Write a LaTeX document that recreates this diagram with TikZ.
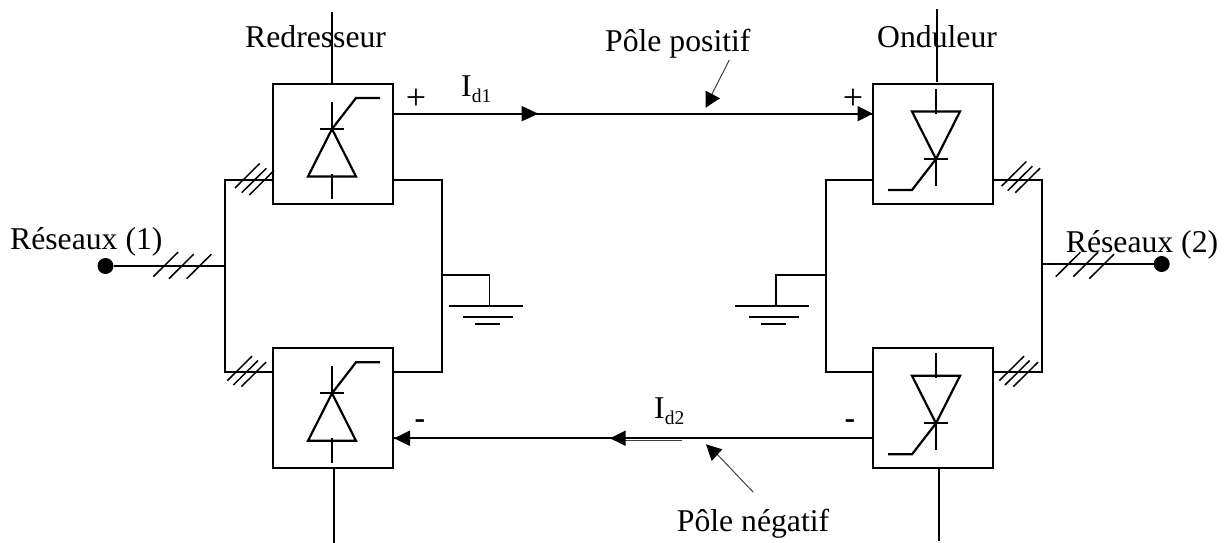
\documentclass[tikz,border=0pt]{standalone}
\usepackage{fontspec}
\setmainfont{Liberation Serif}
\tikzset{
  wire/.style={draw=black,line width=1.8pt},
  thin wire/.style={draw=black!75,line width=1pt},
  sym/.style={draw=black,line width=2.2pt},
  tick/.style={draw=black,line width=1.5pt},
  dcline/.style={draw=black,line width=2pt},
  box/.style={draw=black,line width=1.8pt,minimum width=120pt,minimum height=120pt,inner sep=0pt,fill=none},
  lbl/.style={anchor=base west,inner sep=0pt,font=\fontsize{31.7}{34}\selectfont},
  sgn/.style={anchor=center,inner sep=0pt,font=\fontsize{36}{38}\selectfont},
  neg/.style={anchor=center,inner sep=0pt,font=\fontsize{31.7}{34}\selectfont\bfseries},
  tip/.style={fill=black,draw=none},
}
\newcommand{\thyrup}[2]{% apex x, apex y
  \draw[sym,line join=miter] (#1,#2) -- (#1-24,#2+47.5) -- (#1+24,#2+47.5) -- cycle;
  \draw[wire] (#1,#2-27) -- (#1,#2);
  \draw[wire] (#1,#2+45) -- (#1,#2+70);
  \draw[sym] (#1-12,#2) -- (#1+12,#2);
  \draw[sym] (#1,#2) -- (#1+24,#2-31) -- (#1+48,#2-31);
}
\newcommand{\thyrdown}[2]{% apex x, apex y
  \draw[sym,line join=miter] (#1,#2) -- (#1-24,#2-47.5) -- (#1+24,#2-47.5) -- cycle;
  \draw[wire] (#1,#2-70) -- (#1,#2-45);
  \draw[wire] (#1,#2) -- (#1,#2+27);
  \draw[sym] (#1-12,#2) -- (#1+12,#2);
  \draw[sym] (#1,#2) -- (#1-24,#2+31) -- (#1-48,#2+31);
}
\newcommand{\ticks}[2]{% x start, y start (bottom-left)
  \draw[tick] (#1,#2) -- ++(24.7,-24.5);
}
\begin{document}
\begin{tikzpicture}[x=1pt,y=-1pt]
\useasboundingbox (0,0) rectangle (1227,543);
% boxes
\node[box] (tl) at (333.3,144) {};
\node[box] (bl) at (333.3,408.3) {};
\node[box] (tr) at (933.3,144) {};
\node[box] (br) at (933.3,408.3) {};
% external leads
\coordinate (tlu) at (332,12);
\coordinate (blu) at (334,542.6);
\coordinate (tru) at (937,9);
\coordinate (bru) at (939,540.7);
\draw[wire] (tlu) -- (tlu |- tl.north);
\draw[wire] (blu) -- (blu |- bl.south);
\draw[wire] (tru) -- (937,82);
\draw[wire] (bru) -- (bru |- br.south);
% thyristors
\thyrup{332}{129}
\thyrup{332}{393.3}
\thyrdown{936}{159}
\thyrdown{936}{423.3}
% left network
\coordinate (lb1) at (225.3,180);
\coordinate (lb2) at (225.3,372.3);
\coordinate (rb1) at (441.7,180);
\coordinate (rb2) at (441.7,372.3);
\draw[wire] (273.3,180) -- (lb1) -- (lb2) -- (273.3,372.3);
\draw[wire] (393.3,180) -- (rb1) -- (rb2) -- (393.3,372.3);
% right network
\coordinate (lc1) at (825.7,180);
\coordinate (lc2) at (825.7,372.3);
\coordinate (rc1) at (1041.7,180);
\coordinate (rc2) at (1041.7,372.3);
\draw[wire] (873.3,180) -- (lc1) -- (lc2) -- (873.3,372.3);
\draw[wire] (993.3,180) -- (rc1) -- (rc2) -- (993.3,372.3);
% grounds
\draw[wire] (441.7,275) -- (489.5,275) -- (489.5,306);
\draw[sym] (449,305.7) -- (522.5,305.7);
\draw[sym] (462.5,317) -- (512.5,317);
\draw[tick] (475,324) -- (500,324);
\draw[wire] (825.7,274.7) -- (775.7,274.7) -- (775.7,306);
\draw[sym] (735,306) -- (809,306);
\draw[sym] (749,317) -- (798.7,317);
\draw[tick] (761,324) -- (786,324);
% terminals
\node[circle,fill=black,inner sep=0pt,minimum size=16pt] (d1) at (105.5,266) {};
\node[circle,fill=black,inner sep=0pt,minimum size=16pt] (d2) at (1161.7,264) {};
\draw[wire] (d1) -- (225.3,266);
\draw[wire] (1041.7,264) -- (d2);
% three-phase ticks
\ticks{153.3}{276.7}\ticks{169}{278.7}\ticks{186.7}{278.7}
\ticks{1055.7}{276.7}\ticks{1073.3}{276.7}\ticks{1089.3}{278.7}
\ticks{235}{188}\ticks{241.7}{192.7}\ticks{249.3}{195}
\ticks{227.3}{380.7}\ticks{233.3}{385}\ticks{241.3}{386.7}
\ticks{1001.7}{186}\ticks{1007.7}{190.7}\ticks{1015.3}{192.7}
\ticks{999.3}{380.7}\ticks{1005}{385}\ticks{1013.3}{386.7}
% DC lines
\draw[dcline] (393.3,113.7) -- (873.3,113.7);
\draw[wire] (873.3,438.3) -- (393.3,438.3);
\draw[thin wire] (625,440.5) -- (682,440.5);
\fill[tip] (538.3,113.7) -- (521.7,106) -- (521.7,121.4) -- cycle;
\fill[tip] (872.7,113.7) -- (857.7,106) -- (857.7,121.4) -- cycle;
\fill[tip] (394,438.3) -- (410,430.5) -- (410,446) -- cycle;
\fill[tip] (610,438.3) -- (625.7,430.5) -- (625.7,446) -- cycle;
% pointers
\draw[thin wire] (729.3,60) -- (712,94);
\fill[tip] (705.7,90.7) -- (720,98.3) -- (705.7,107.7) -- cycle;
\draw[thin wire] (753.3,492.3) -- (715,452);
\fill[tip] (706,444.3) -- (722.3,449.3) -- (711.7,461) -- cycle;
% labels
\node[lbl] (t1) at (245,48) {Redresseur};
\node[lbl] (t2) at (877,48) {Onduleur};
\node[lbl] (t3) at (605,52) {Pôle positif};
\node[lbl] (t4) at (676.7,531.5) {Pôle négatif};
\node[lbl] (t5) at (10,249) {Réseaux (1)};
\node[lbl] (t6) at (1065.7,252) {Réseaux (2)};
\node[lbl] (t7) at (461,96) {I\raisebox{-0.2em}{\fontsize{19.5}{20}\selectfont d1}};
\node[lbl] (t8) at (654,418) {I\raisebox{-0.2em}{\fontsize{19.5}{20}\selectfont d2}};
\node[sgn] (p1) at (416,99) {+};
\node[sgn] (p2) at (853,99) {+};
\node[neg] (m1) at (420,424) {-};
\node[neg] (m2) at (850,424) {-};
\end{tikzpicture}
\end{document}
